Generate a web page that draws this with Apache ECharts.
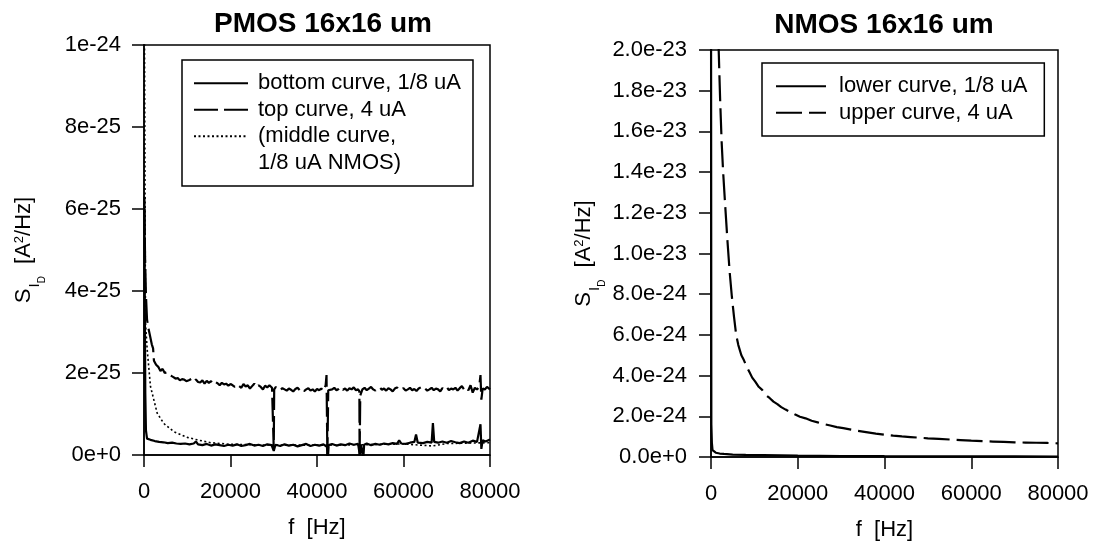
<!DOCTYPE html>
<html><head><meta charset="utf-8">
<script src="https://cdn.jsdelivr.net/npm/echarts@6/dist/echarts.min.js"></script>
<style>html,body{margin:0;padding:0;background:#fff}#c{width:1094px;height:546px}</style>
</head><body><div id="c"></div><script>
const FONT = 'Liberation Sans, Arial, Helvetica, sans-serif';
const freqTicks = [0, 20000, 40000, 60000, 80000];
const pmosUnit = 1e-25;   // PMOS panel values below are in units of 1e-25 A^2/Hz
const nmosUnit = 1e-24;   // NMOS panel values below are in units of 1e-24 A^2/Hz
const pmosTitle = 'PMOS 16x16 um';
const nmosTitle = 'NMOS 16x16 um';
const pmosNames = ['bottom curve, 1/8 uA', 'top curve, 4 uA', '(middle curve,', '1/8 uA NMOS)'];
const nmosNames = ['lower curve, 1/8 uA', 'upper curve, 4 uA'];

// [f (Hz), S_ID]
const pmosBottom = [[100,6.3],[200,3.5],[300,1.5],[450,0.6],[700,0.4],[1500,0.37],[2500,0.34],[3500,0.32],[4500,0.31],[5500,0.29],[6500,0.3],[7500,0.28],[8500,0.27],[9500,0.28],[10500,0.26],[11500,0.28],[12000,0.33],[12500,0.26],[13500,0.24],[14500,0.27],[15500,0.23],[16500,0.26],[17500,0.24],[18500,0.22],[19500,0.25],[20500,0.23],[21500,0.26],[22500,0.22],[23500,0.24],[24500,0.27],[25500,0.23],[26500,0.25],[27500,0.22],[28500,0.26],[29500,0.24],[30000,0.1],[30400,0.25],[31500,0.22],[32500,0.26],[33500,0.23],[34500,0.25],[35500,0.21],[36500,0.24],[37500,0.27],[38500,0.22],[39500,0.25],[40500,0.23],[41500,0.26],[42300,0.2],[42500,-0.1],[42700,0.24],[43500,0.27],[44500,0.23],[45500,0.26],[46500,0.24],[47500,0.28],[48500,0.25],[49500,0.27],[49900,0.0],[50200,0.26],[50700,-0.1],[50900,0.25],[51500,0.28],[52500,0.24],[53500,0.27],[54500,0.25],[55500,0.28],[56500,0.26],[57500,0.29],[58500,0.27],[59000,0.36],[59500,0.28],[60500,0.27],[61500,0.3],[62500,0.32],[62900,0.5],[63300,0.3],[64500,0.29],[65500,0.32],[66500,0.3],[66800,0.78],[67100,0.32],[68000,0.3],[69000,0.33],[70000,0.3],[71000,0.34],[72000,0.31],[73000,0.29],[74000,0.33],[75000,0.3],[76000,0.35],[77000,0.32],[77800,0.75],[78000,0.15],[78300,0.36],[79000,0.33],[80000,0.38]];
const pmosTop = [[100,6.0],[250,4.8],[450,3.9],[700,3.3],[1000,3.1],[1400,2.9],[1800,2.7],[2100,2.6],[2300,2.3],[2800,2.2],[3300,2.15],[3800,2.05],[4300,2.1],[4800,2.0],[5300,2.02],[5800,1.95],[6300,1.93],[6800,1.9],[7300,1.86],[7800,1.88],[8300,1.82],[8800,1.85],[9300,1.84],[9800,1.8],[10500,1.83],[11000,1.86],[11500,1.79],[12000,1.84],[12500,1.78],[13000,1.77],[13500,1.82],[14000,1.74],[14500,1.81],[15000,1.76],[15500,1.8],[16000,1.73],[16500,1.78],[17000,1.75],[17500,1.7],[18000,1.76],[18500,1.72],[19000,1.74],[19500,1.69],[20000,1.73],[20500,1.7],[21000,1.66],[21500,1.72],[22000,1.68],[22500,1.64],[23000,1.73],[23500,1.67],[24000,1.7],[24500,1.62],[25000,1.68],[25500,1.74],[26000,1.65],[26500,1.7],[27000,1.66],[27500,1.6],[28000,1.69],[28500,1.65],[29000,1.7],[29600,1.64],[29900,1.62],[30000,0.15],[30100,1.6],[30500,1.66],[31000,1.61],[31500,1.58],[32000,1.63],[32500,1.6],[33000,1.57],[33500,1.62],[34000,1.59],[34500,1.55],[35000,1.61],[35500,1.64],[36000,1.58],[36500,1.62],[37000,1.56],[37500,1.6],[38000,1.63],[38500,1.57],[39000,1.6],[39500,1.55],[40000,1.61],[40500,1.58],[41000,1.62],[41500,1.56],[42000,1.7],[42200,1.95],[42400,-0.05],[42600,1.58],[43000,1.62],[43500,1.6],[44000,1.64],[44500,1.58],[45000,1.61],[45500,1.66],[46000,1.59],[46500,1.62],[47000,1.57],[47500,1.63],[48000,1.6],[48500,1.65],[49000,1.58],[49500,1.6],[49800,1.55],[49850,-0.05],[50000,1.45],[50500,1.6],[51000,1.64],[51500,1.58],[52000,1.62],[52500,1.66],[53000,1.6],[53500,1.57],[54000,1.63],[54500,1.65],[55000,1.59],[55500,1.62],[56000,1.57],[56500,1.63],[57000,1.6],[57500,1.55],[58000,1.62],[58500,1.65],[59000,1.58],[59500,1.61],[60000,1.63],[60500,1.57],[61000,1.6],[61500,1.64],[62000,1.58],[62500,1.61],[63000,1.56],[63500,1.62],[64000,1.65],[64500,1.59],[65000,1.62],[65500,1.57],[66000,1.6],[66500,1.64],[67000,1.58],[67500,1.62],[68000,1.6],[68500,1.55],[69000,1.63],[69500,1.6],[70000,1.66],[70500,1.58],[71000,1.62],[71500,1.6],[72000,1.64],[72500,1.57],[73000,1.63],[73500,1.68],[74000,1.6],[74500,1.65],[75000,1.58],[75500,1.7],[76000,1.52],[76500,1.64],[77000,1.6],[77500,1.66],[77800,1.95],[78000,1.35],[78300,1.62],[78800,1.6],[79300,1.66],[80000,1.6]];
const pmosMiddle = [[50,12],[346,3.22],[740,2.57],[1500,1.67],[3050,1.02],[4570,0.77],[6880,0.57],[9980,0.43],[12300,0.37],[15400,0.3],[20000,0.26],[30000,0.24],[40000,0.24],[50000,0.25],[60000,0.27],[66700,0.22],[70000,0.28],[80000,0.3]];
const nmosLower = [[0,25],[80,1.6],[200,0.7],[350,0.34],[600,0.26],[1100,0.21],[2000,0.17],[3000,0.15],[5000,0.12],[8000,0.1],[12000,0.09],[20000,0.07],[30000,0.05],[40000,0.04],[50000,0.035],[60000,0.03],[70000,0.03],[80000,0.025]];
const nmosUpper = [[1500,22],[1800,19.8],[2100,17.6],[2450,15.5],[2800,14.0],[3200,12.6],[3800,10.6],[4300,9.1],[4800,7.9],[5300,6.9],[5800,6.0],[6300,5.5],[7000,5.0],[7600,4.75],[8200,4.45],[8800,4.2],[9500,3.9],[10200,3.7],[11000,3.45],[11800,3.3],[12600,3.05],[13500,2.9],[14400,2.72],[15300,2.6],[16200,2.45],[17200,2.33],[18200,2.22],[19300,2.1],[20500,1.98],[21800,1.9],[23200,1.78],[24600,1.7],[26000,1.62],[27500,1.55],[29000,1.47],[30500,1.42],[32000,1.36],[33500,1.3],[35000,1.25],[36500,1.2],[38000,1.15],[40000,1.1],[42000,1.05],[44000,1.01],[46000,0.98],[48000,0.95],[50000,0.92],[52500,0.89],[55000,0.86],[57500,0.83],[60000,0.8],[62500,0.78],[65000,0.76],[67500,0.74],[70000,0.72],[72500,0.71],[75000,0.7],[77500,0.69],[80000,0.67]];

const BLACK = '#000';
const axisText = { color: BLACK, fontFamily: FONT, fontSize: 22 };
function xAxisCfg(gridIndex) {
  return {
    type: 'value', gridIndex, min: freqTicks[0], max: freqTicks[freqTicks.length - 1],
    interval: freqTicks[1] - freqTicks[0],
    name: 'f  [Hz]', nameLocation: 'middle', nameGap: 62,
    nameTextStyle: axisText,
    axisLine: { show: true, onZero: false, lineStyle: { color: BLACK, width: 1.5 } },
    axisTick: { show: true, length: 12, lineStyle: { color: BLACK, width: 1.5 } },
    axisLabel: Object.assign({ margin: 26, formatter: v => String(v) }, axisText),
    splitLine: { show: false }
  };
}
const richName = {
  s: { fontFamily: FONT, fontSize: 22, lineHeight: 24, verticalAlign: 'top', color: BLACK },
  i: { fontFamily: FONT, fontSize: 15, lineHeight: 15, padding: [14, 0, 0, 1], verticalAlign: 'top', color: BLACK },
  d: { fontFamily: FONT, fontSize: 10, lineHeight: 10, padding: [24, 0, 0, 0], verticalAlign: 'top', color: BLACK },
  n: { fontFamily: FONT, fontSize: 22, lineHeight: 24, verticalAlign: 'top', color: BLACK },
  p: { fontFamily: FONT, fontSize: 13, lineHeight: 13, padding: [0, 0, 0, 0], verticalAlign: 'top', color: BLACK }
};
const yName = '{s|S}{i|I}{d|D}{n|  [A}{p|2}{n|/Hz]}';
function yAxisCfg(gridIndex, max, interval, digits, unit, gap, labelMargin) {
  return {
    type: 'value', gridIndex, min: 0, max, interval,
    name: yName, nameLocation: 'middle', nameGap: gap, nameRotate: 90,
    nameTextStyle: Object.assign({ rich: richName }, axisText),
    axisLine: { show: true, lineStyle: { color: BLACK, width: 1.5 } },
    axisTick: { show: true, length: 12, lineStyle: { color: BLACK, width: 1.5 } },
    axisLabel: Object.assign({ margin: labelMargin, formatter: v => (v * unit).toExponential(digits) }, axisText),
    splitLine: { show: false }
  };
}
function lineSeries(name, data, xi, type, width) {
  return {
    name, type: 'line', xAxisIndex: xi, yAxisIndex: xi, data, symbol: 'none', showSymbol: false,
    clip: true, animation: false, silent: true,
    lineStyle: { color: BLACK, width, type }
  };
}
const legendBase = {
  orient: 'vertical', selectedMode: false, itemGap: 0, itemHeight: 26,
  borderColor: BLACK, borderWidth: 1.5, backgroundColor: '#fff',
  itemStyle: { opacity: 0, borderWidth: 0 },
  textStyle: { color: BLACK, fontFamily: FONT, fontSize: 22, lineHeight: 26.5 }
};

const option = {
  backgroundColor: '#fff',
  animation: false,
  title: [
    { text: pmosTitle, left: 318, top: 5, textAlign: 'center', textStyle: { fontFamily: FONT, fontSize: 28, fontWeight: 'bold', color: BLACK } },
    { text: nmosTitle, left: 879, top: 6, textAlign: 'center', textStyle: { fontFamily: FONT, fontSize: 28, fontWeight: 'bold', color: BLACK } }
  ],
  grid: [
    { left: 144, top: 45, width: 346, height: 410, show: true, borderColor: BLACK, borderWidth: 1.5, backgroundColor: 'transparent' },
    { left: 711, top: 50, width: 347, height: 407, show: true, borderColor: BLACK, borderWidth: 1.5, backgroundColor: 'transparent' }
  ],
  xAxis: [xAxisCfg(0), xAxisCfg(1)],
  yAxis: [yAxisCfg(0, 10, 2, 0, pmosUnit, 107, 23), yAxisCfg(1, 20, 2, 1, nmosUnit, 114, 24)],
  legend: [
    Object.assign({}, legendBase, {
      left: 182, top: 60, itemWidth: 54, padding: [10, 12, 10, 11],
      textStyle: Object.assign({}, legendBase.textStyle, { padding: [0, 0, 0, 5] }),
      data: [
        { name: pmosNames[0] }, { name: pmosNames[1] }, { name: pmosNames[2] },
        { name: pmosNames[3], lineStyle: { opacity: 0 } }
      ]
    }),
    Object.assign({}, legendBase, {
      left: 762, top: 63, itemWidth: 50, padding: [10, 17, 10, 13],
      textStyle: Object.assign({}, legendBase.textStyle, { padding: [0, 0, 0, 8] }),
      data: nmosNames.map(n => ({ name: n }))
    })
  ],
  series: [
    lineSeries(pmosNames[0], pmosBottom, 0, 'solid', 2.2),
    lineSeries(pmosNames[1], pmosTop, 0, [24, 6], 2.2),
    lineSeries(pmosNames[2], pmosMiddle, 0, [2, 2.5], 1.6),
    lineSeries(pmosNames[3], [], 0, 'solid', 0.01),
    lineSeries(nmosNames[0], nmosLower, 1, 'solid', 2.2),
    lineSeries(nmosNames[1], nmosUpper, 1, [26, 7], 2.2)
  ]
};
const chart = echarts.init(document.getElementById('c'), null, { renderer: 'canvas' });
chart.setOption(option);
</script></body></html>
